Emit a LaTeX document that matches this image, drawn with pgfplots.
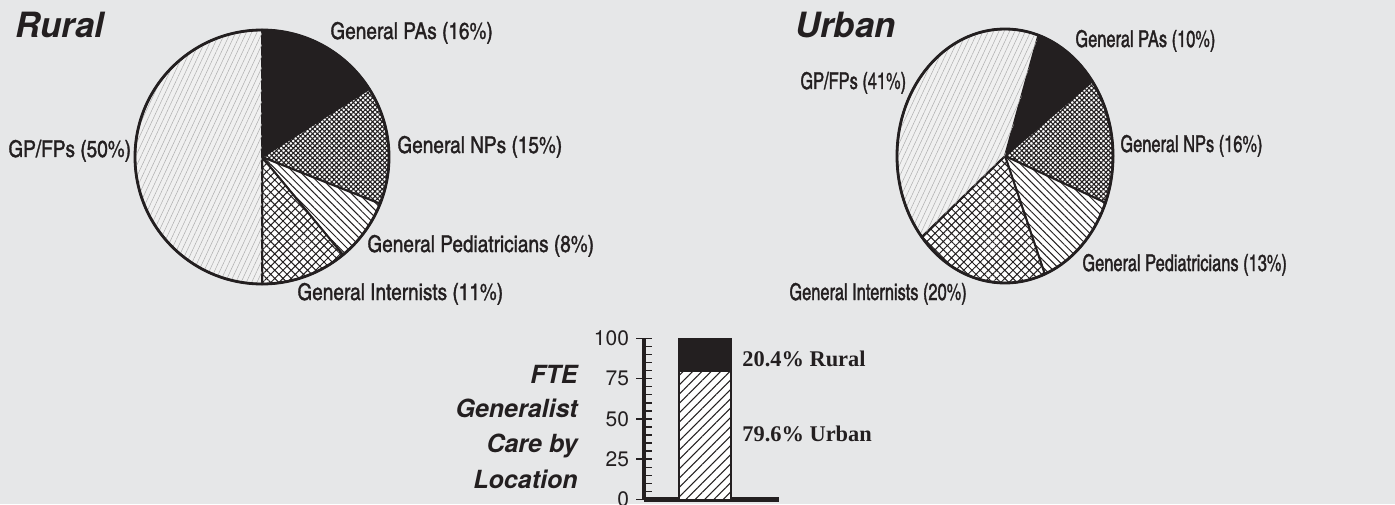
\documentclass[border=0pt]{standalone}
\usepackage{pgfplots}
\pgfplotsset{compat=1.18}
\usepackage{fontspec}
\usetikzlibrary{patterns.meta}
\setmainfont{TeX Gyre Heros}
\newfontfamily\cond{texgyreheroscn}[Extension=.otf,UprightFont=*-regular,BoldFont=*-bold,ItalicFont=*-italic,BoldItalicFont=*-bolditalic,FakeBold=1.3]
\newfontfamily\condn{texgyreheroscn}[Extension=.otf,UprightFont=*-regular,BoldFont=*-bold,ItalicFont=*-italic,BoldItalicFont=*-bolditalic,FakeBold=1.3,FakeStretch=0.862]
\newfontfamily\tnr{Liberation Serif}
\definecolor{bg}{HTML}{E6E7E8}
\definecolor{ink}{HTML}{231F20}
\tikzset{
  pa/.style={fill=ink, draw=ink, line width=1pt},
  np/.style={fill=white, draw=ink, line width=1pt, postaction={pattern={Hatch[angle=45,distance=1.7pt,line width=0.55pt]}, pattern color=ink}},
  ped/.style={fill=white, draw=ink, line width=1pt, postaction={pattern={Lines[angle=-45,distance=2.6pt,line width=0.5pt]}, pattern color=ink}},
  int/.style={fill=white, draw=ink, line width=1pt, postaction={pattern={Hatch[angle=45,distance=2.9pt,line width=0.5pt]}, pattern color=ink}},
  gp/.style={fill=white!94!black, draw=ink, line width=1pt, postaction={pattern={Lines[angle=65,distance=2.4pt,line width=0.25pt]}, pattern color=black!32}},
  lab/.style={inner sep=0pt, anchor=base west, text=ink},
}
% #1 start angle, #2 from %, #3 to %, #4 x radius, #5 y radius, #6 style
\newcommand\pieslice[6]{%
  \pgfmathsetmacro\sa{#1-3.6*#2}%
  \pgfmathsetmacro\ea{#1-3.6*#3}%
  \edef\temp{\noexpand\path[#6] (axis cs:0,0) -- ++(\sa:#4 and #5) arc[start angle=\sa, end angle=\ea, x radius=#4, y radius=#5] -- cycle;}%
  \temp}
\begin{document}
\begin{tikzpicture}
\fill[bg] (0,0) rectangle (697.5pt,252pt);
\useasboundingbox (0,0) rectangle (697.5pt,252pt);

% Rural pie: shares (%): PAs 16, NPs 15, Pediatricians 8, Internists 11, GP/FPs 50
\begin{axis}[at={(131pt,173.5pt)}, anchor=center, scale only axis, width=127pt, height=127pt,
  xmin=-1, xmax=1, ymin=-1, ymax=1, hide axis, clip=false]
\addplot[draw=none] coordinates {(0,0)};
\pieslice{90}{0}{16}{63.5pt}{63.5pt}{pa}
\pieslice{90}{16}{31}{63.5pt}{63.5pt}{np}
\pieslice{90}{31}{39}{63.5pt}{63.5pt}{ped}
\pieslice{90}{39}{50}{63.5pt}{63.5pt}{int}
\pieslice{90}{50}{100}{63.5pt}{63.5pt}{gp}
\draw[ink, line width=1.4pt] (axis cs:0,0) ellipse[x radius=63.5pt, y radius=63.5pt];
\end{axis}

% Urban pie: PAs 10, NPs 16, Pediatricians 13, Internists 20, GP/FPs 41
\begin{axis}[at={(502.5pt,174pt)}, anchor=center, scale only axis, width=108pt, height=127pt,
  xmin=-1, xmax=1, ymin=-1, ymax=1, hide axis, clip=false]
\addplot[draw=none] coordinates {(0,0)};
\pieslice{72}{0}{10}{54pt}{63.5pt}{pa}
\pieslice{72}{10}{26}{54pt}{63.5pt}{np}
\pieslice{72}{26}{39}{54pt}{63.5pt}{ped}
\pieslice{72}{39}{59}{54pt}{63.5pt}{int}
\pieslice{72}{59}{100}{54pt}{63.5pt}{gp}
\draw[ink, line width=1.4pt] (axis cs:0,0) ellipse[x radius=54pt, y radius=63.5pt];
\end{axis}

% FTE bar
\begin{axis}[at={(322pt,2.25pt)}, anchor=south west, scale only axis, width=67.5pt, height=80.6pt,
  xmin=0, xmax=1, ymin=0, ymax=100,
  axis x line*=bottom, axis y line*=left,
  axis line style={line width=2.4pt, draw=ink, -},
  xtick=\empty,
  ytick={0,25,50,75,100},
  minor ytick={5,10,...,95},
  tick align=inside,
  major tick length=3.9pt, minor tick length=3.9pt,
  every tick/.style={line width=0.75pt, ink},
  extra y ticks={0,25,50,75,100},
  extra y tick labels={},
  extra y tick style={tick align=outside},
  yticklabel style={font=\fontsize{10.5}{12}\selectfont, text=ink, xshift=-4pt},
  /pgf/number format/assume math mode=true,
  ybar stacked, bar width=26pt, clip=false]
\addplot[draw=ink, line width=0.8pt, fill=white, postaction={pattern={Lines[angle=45,distance=3.3pt,line width=0.55pt]}, pattern color=ink}] coordinates {(0.452,79.6)};
\addplot[draw=ink, line width=0.8pt, fill=ink] coordinates {(0.452,20.4)};
\draw[white, line width=0.6pt] (axis cs:0.452,79.6) +(-12.6pt,0) -- +(12.6pt,0);
\node[lab, font=\tnr\bfseries\fontsize{11.2}{13}\selectfont] at (axis cs:0.726,82.2) {20.4\% Rural};
\node[lab, font=\tnr\bfseries\fontsize{11.2}{13}\selectfont] at (axis cs:0.726,35.7) {79.6\% Urban};
\end{axis}

\begin{scope}[shift={(0pt,252pt)}, x=0.5pt, y=-0.5pt]
\node[lab, font=\bfseries\itshape\fontsize{17.4}{20}\selectfont] at (15,38) {Rural};
\node[lab, font=\bfseries\itshape\fontsize{17.4}{20}\selectfont] at (795,38) {Urban};
\begin{scope}[every node/.style={lab, font=\cond\fontsize{11.6}{13}\selectfont}]
\node at (330,39) {General PAs (16\%)};
\node at (397,153) {General NPs (15\%)};
\node at (367,252) {General Pediatricians (8\%)};
\node at (297,300) {General Internists (11\%)};
\node at (8,157) {GP/FPs (50\%)};
\end{scope}
\begin{scope}[every node/.style={lab, font=\condn\fontsize{11.6}{13}\selectfont}]
\node at (1075,47) {General PAs (10\%)};
\node at (800,89) {GP/FPs (41\%)};
\node at (1120,152) {General NPs (16\%)};
\node at (1082,271) {General Pediatricians (13\%)};
\node at (789,300) {General Internists (20\%)};
\end{scope}
\begin{scope}[every node/.style={inner sep=0pt, anchor=base east, text=ink, font=\bfseries\itshape\fontsize{12.5}{15}\selectfont}]
\node at (578,383) {FTE};
\node at (578,417) {Generalist};
\node at (578,452) {Care by};
\node at (578,488) {Location};
\end{scope}
\end{scope}
\end{tikzpicture}
\end{document}
